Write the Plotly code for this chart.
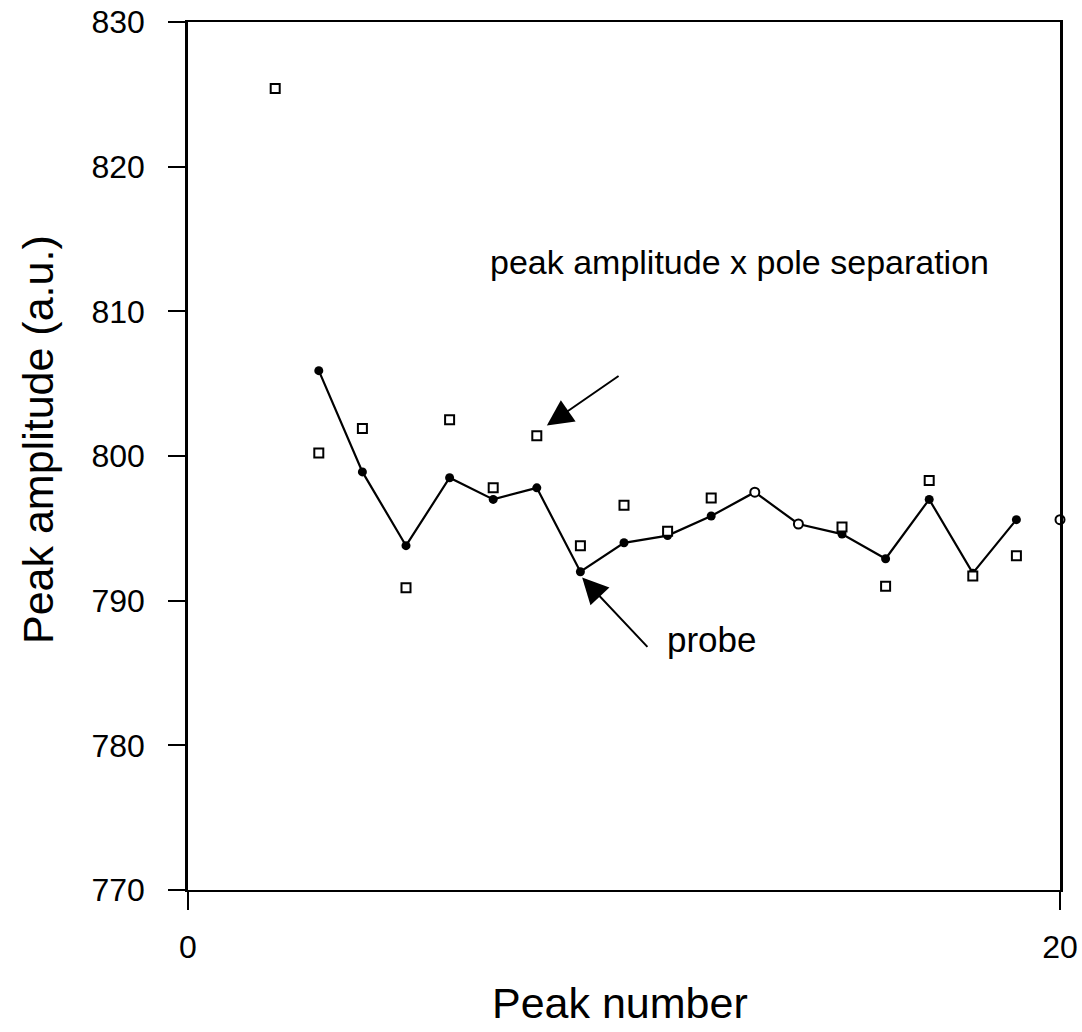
import plotly.graph_objects as go

# Open markers: peak amplitude x pole separation
sep_x = [2, 3, 4, 5, 6, 7, 8, 9, 10, 11, 12, 13, 14, 15, 16, 17, 18, 19, 20]
sep_y = [825.4, 800.2, 801.9, 790.9, 802.5, 797.8, 801.4, 793.8, 796.6, 794.8,
         797.1, 797.5, 795.3, 795.1, 791.0, 798.3, 791.7, 793.1, 795.6]
sep_symbols = ["square"] * 11 + ["circle", "circle"] + ["square"] * 5 + ["circle"]

# Filled markers with line: probe
probe_x = [3, 4, 5, 6, 7, 8, 9, 10, 11, 12, 13, 14, 15, 16, 17, 18, 19]
probe_y = [805.9, 798.9, 793.8, 798.5, 797.0, 797.8, 792.0, 794.0, 794.5, 795.85,
           797.5, 795.3, 794.6, 792.9, 797.0, 791.9, 795.6]

x_ticks = [0, 20]
y_ticks = [770, 780, 790, 800, 810, 820, 830]

FONT = "Arial, Liberation Sans, sans-serif"

fig = go.Figure()
fig.add_trace(go.Scatter(
    x=probe_x, y=probe_y, mode="lines+markers",
    line=dict(color="black", width=2.2),
    marker=dict(symbol="circle", size=9, color="black"),
    showlegend=False, cliponaxis=False,
))
fig.add_trace(go.Scatter(
    x=sep_x, y=sep_y, mode="markers",
    marker=dict(symbol=sep_symbols, size=9, color="white",
                line=dict(color="black", width=2)),
    showlegend=False, cliponaxis=False,
))

fig.add_annotation(x=8.23, y=802.1, ax=9.91, ay=805.6, xref="x", yref="y",
                   axref="x", ayref="y", text="", showarrow=True,
                   arrowhead=2, arrowsize=2.6, arrowwidth=2, arrowcolor="black")
fig.add_annotation(x=9.04, y=791.6, ax=10.57, ay=786.7, xref="x", yref="y",
                   axref="x", ayref="y", text="", showarrow=True,
                   arrowhead=2, arrowsize=2.6, arrowwidth=2, arrowcolor="black")
fig.add_annotation(x=12.65, y=813.4, xref="x", yref="y",
                   text="peak amplitude x pole separation", showarrow=False,
                   font=dict(family=FONT, size=34, color="black"))
fig.add_annotation(x=12.02, y=787.3, xref="x", yref="y",
                   text="probe", showarrow=False,
                   font=dict(family=FONT, size=35, color="black"))

W, H = 1082, 1032
ML, MR, MT, MB = 188, 22, 22, 142

# Axis titles (placed by pixel position, converted to paper coordinates)
fig.add_annotation(x=(620 - ML) / (W - ML - MR), y=(H - MB - 1003) / (H - MT - MB),
                   xref="paper", yref="paper", xanchor="center", yanchor="middle",
                   text="Peak number", showarrow=False,
                   font=dict(family=FONT, size=43, color="black"))
fig.add_annotation(x=(38 - ML) / (W - ML - MR), y=(H - MB - 440) / (H - MT - MB),
                   xref="paper", yref="paper", xanchor="center", yanchor="middle",
                   textangle=-90, text="Peak amplitude (a.u.)", showarrow=False,
                   font=dict(family=FONT, size=43, color="black"))

fig.update_layout(
    template="none",
    width=W, height=H,
    margin=dict(l=ML, r=MR, t=MT, b=MB, autoexpand=False),
    paper_bgcolor="white", plot_bgcolor="white",
    font=dict(family=FONT, color="black"),
)
fig.update_xaxes(
    range=[0, 20], tickvals=x_ticks, ticks="outside", ticklen=18, tickwidth=2,
    tickcolor="black", showline=True, linecolor="black", linewidth=2,
    mirror=True, showgrid=False, zeroline=False, automargin=False,
    tickfont=dict(family=FONT, size=32), ticklabelstandoff=10,
)
fig.update_yaxes(
    range=[770, 830], tickvals=y_ticks, ticks="outside", ticklen=17, tickwidth=2,
    tickcolor="black", showline=True, linecolor="black", linewidth=2.5,
    mirror=True, showgrid=False, zeroline=False, automargin=False,
    tickfont=dict(family=FONT, size=32), ticklabelstandoff=17,
)

fig.write_html("out.html",
               config={"displayModeBar": False},
               post_script="document.body.style.margin='0';"
                           "document.body.style.overflow='hidden';")
